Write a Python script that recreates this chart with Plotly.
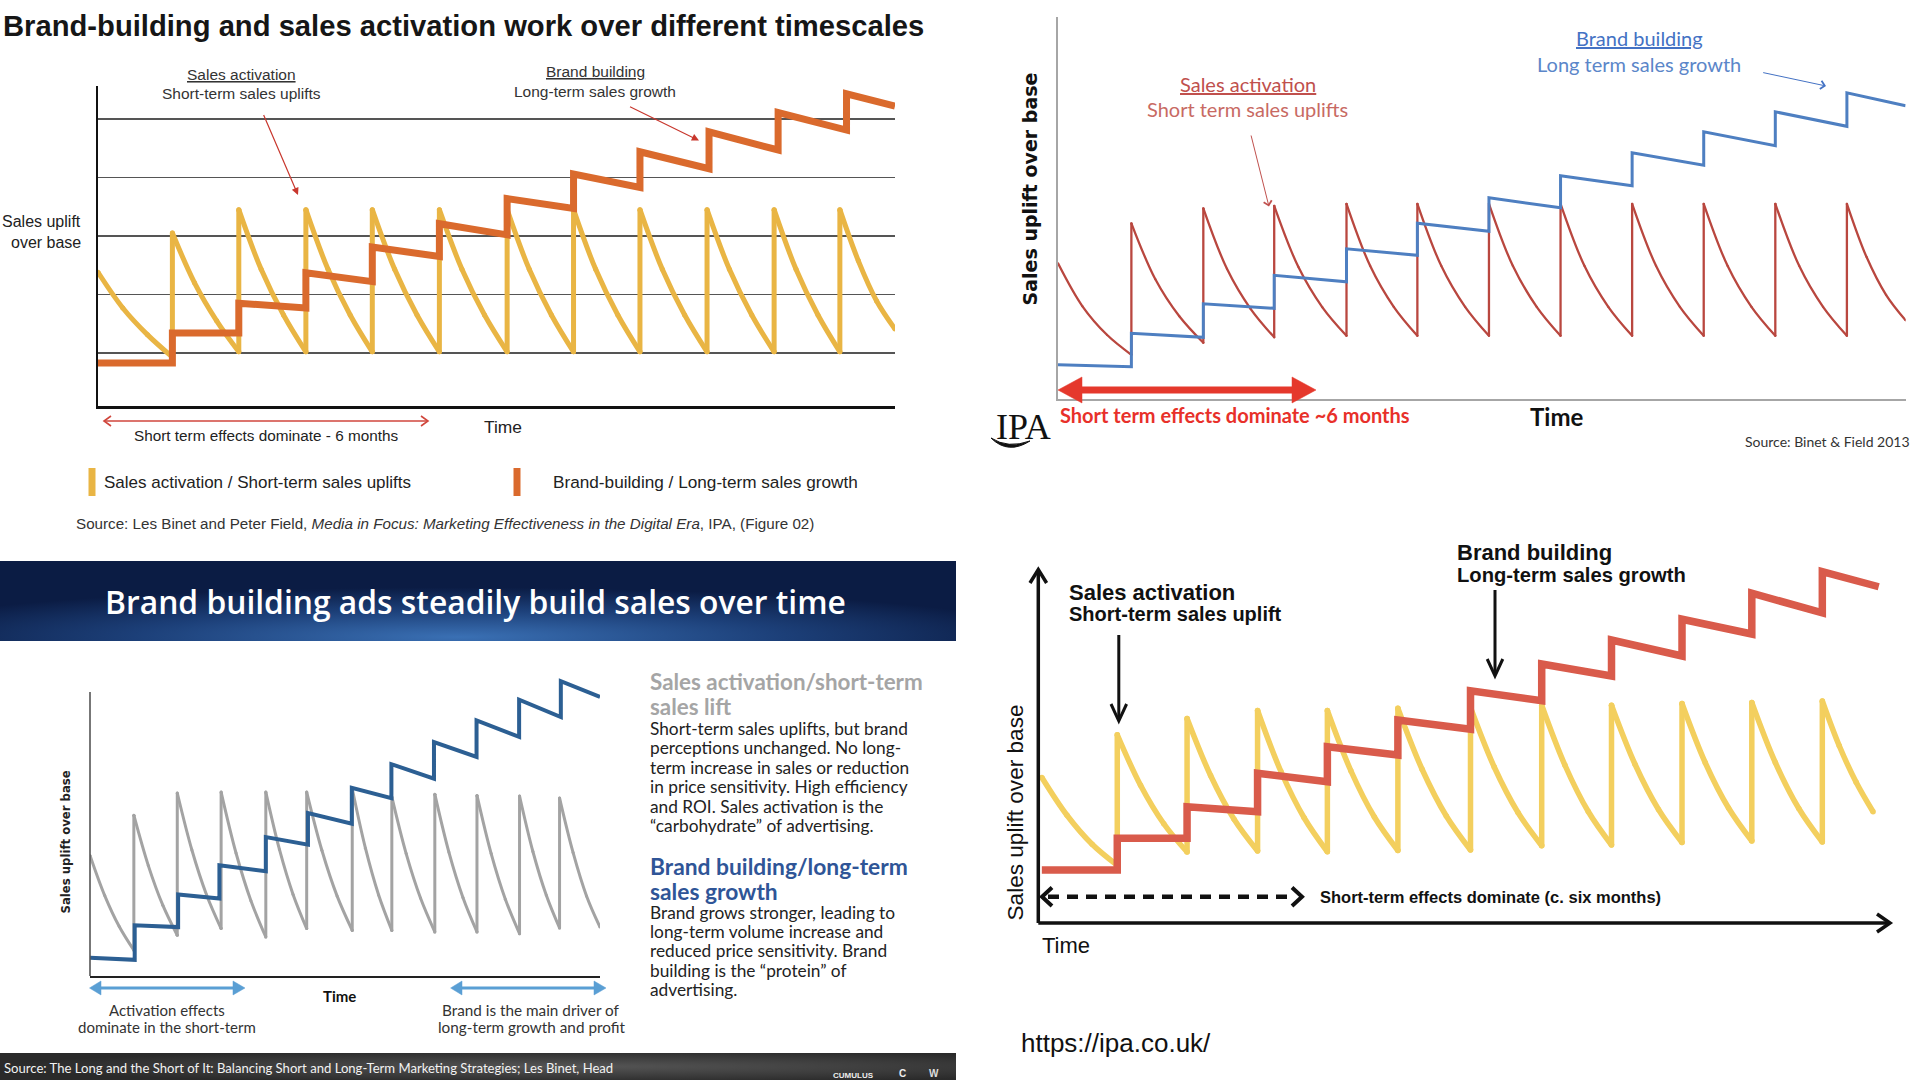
import base64
import plotly.graph_objects as go

W, H = 1920, 1080

# ------------------------------------------------------------------ data
# Panel 1 (top-left) - sales activation teeth and brand-building steps
p1_act_t = [0, 1.12, 2.12, 3.13, 4.13, 5.14, 6.16, 7.16, 8.16, 9.17, 10.18, 11.17, 12.0]
p1_act_top = [2.38, 3.05, 3.45, 3.45, 3.45, 3.45, 3.45, 3.45, 3.45, 3.45, 3.45, 3.45]
p1_act_q1 = [1.77, 2.20, 2.43, 2.43, 2.43, 2.43, 2.43, 2.43, 2.43, 2.43, 2.43, 2.58]
p1_act_q2 = [1.31, 1.55, 1.65, 1.65, 1.65, 1.65, 1.65, 1.65, 1.65, 1.65, 1.65, 1.89]
p1_act_bot = [0.93, 1.02, 1.02, 1.02, 1.02, 1.02, 1.02, 1.02, 1.02, 1.02, 1.02, 1.41]
p1_brand_t = [0, 1.12, 2.12, 3.13, 4.13, 5.14, 6.16, 7.16, 8.16, 9.2, 10.24, 11.27, 12.0]
p1_brand_top = [0.83, 1.34, 1.85, 2.37, 2.81, 3.21, 3.64, 4.06, 4.44, 4.78, 5.11, 5.43]
p1_brand_bot = [0.83, 1.34, 1.77, 2.22, 2.65, 3.02, 3.47, 3.83, 4.15, 4.47, 4.81, 5.22]
p1_grid = [1, 2, 3, 4, 5]

# Panel 2 (top-right) - IPA / Binet & Field 2013
p2_act_t = [0, 1.025, 2.03, 3.02, 4.03, 5.02, 6.02, 7.02, 8.02, 9.02, 10.02, 11.02, 11.84]
p2_act_top = [2.71, 3.51, 3.81, 3.86, 3.90, 3.90, 3.90, 3.90, 3.90, 3.90, 3.90, 3.90]
p2_act_q1 = [1.85, 2.39, 2.60, 2.64, 2.66, 2.66, 2.66, 2.66, 2.66, 2.66, 2.66, 2.84]
p2_act_q2 = [1.28, 1.65, 1.80, 1.83, 1.84, 1.84, 1.84, 1.84, 1.84, 1.84, 1.84, 2.08]
p2_act_bot = [0.88, 1.12, 1.23, 1.26, 1.26, 1.26, 1.26, 1.26, 1.26, 1.26, 1.26, 1.57]
p2_brand_t = [0, 1.025, 2.03, 3.02, 4.03, 5.02, 6.02, 7.02, 8.02, 9.02, 10.02, 11.02, 11.84]
p2_brand_top = [0.68, 1.31, 1.90, 2.47, 3.00, 3.51, 4.02, 4.46, 4.92, 5.34, 5.74, 6.12]
p2_brand_bot = [0.64, 1.23, 1.81, 2.34, 2.87, 3.35, 3.82, 4.26, 4.67, 5.06, 5.45, 5.86]

# Panel 3 (bottom-left) - "Brand building ads steadily build sales over time"
p3_act_t = [0, 1.03, 2.05, 3.08, 4.13, 5.09, 6.16, 7.09, 8.10, 9.09, 10.09, 11.03, 11.98]
p3_act_top = [4.02, 5.36, 6.10, 6.13, 6.13, 6.13, 6.24, 5.97, 6.06, 6.02, 6.00, 5.93]
p3_act_q1 = [2.69, 3.68, 4.20, 4.10, 4.22, 4.19, 4.26, 4.08, 4.13, 4.08, 4.15, 4.12]
p3_act_q2 = [1.65, 2.36, 2.71, 2.51, 2.72, 2.67, 2.70, 2.60, 2.62, 2.56, 2.70, 2.67]
p3_act_bot = [0.86, 1.36, 1.58, 1.30, 1.58, 1.52, 1.52, 1.47, 1.47, 1.41, 1.60, 1.63]
p3_brand_t = [0, 1.05, 2.07, 3.04, 4.13, 5.12, 6.15, 7.08, 8.08, 9.08, 10.08, 11.06, 11.98]
p3_brand_top = [0.61, 1.69, 2.72, 3.69, 4.63, 5.43, 6.27, 7.06, 7.80, 8.52, 9.21, 9.83]
p3_brand_bot = [0.54, 1.63, 2.58, 3.49, 4.38, 5.08, 5.93, 6.58, 7.30, 7.97, 8.63, 9.30]

# Panel 4 (bottom-right) - ipa.co.uk
p4_act_t = [0.05, 1.12, 2.11, 3.11, 4.10, 5.10, 6.13, 7.14, 8.13, 9.13, 10.12, 11.12, 11.84]
p4_act_top = [5.82, 7.53, 8.18, 8.50, 8.50, 8.59, 8.62, 8.71, 8.71, 8.78, 8.82, 8.88]
p4_act_q1 = [4.31, 5.51, 5.90, 6.07, 6.09, 6.15, 6.24, 6.31, 6.35, 6.41, 6.42, 7.09]
p4_act_q2 = [3.15, 3.97, 4.15, 4.21, 4.24, 4.28, 4.42, 4.46, 4.54, 4.60, 4.58, 5.63]
p4_act_bot = [2.31, 2.84, 2.88, 2.85, 2.90, 2.92, 3.09, 3.12, 3.22, 3.28, 3.24, 4.45]
p4_brand_t = [0.05, 1.12, 2.11, 3.11, 4.10, 5.10, 6.13, 7.14, 8.13, 9.13, 10.12, 11.12, 11.92]
p4_brand_top = [2.12, 3.39, 4.65, 5.99, 7.05, 8.12, 9.29, 10.36, 11.32, 12.15, 13.19, 14.05]
p4_brand_bot = [2.12, 3.39, 4.45, 5.65, 6.72, 7.75, 8.89, 9.88, 10.68, 11.56, 12.41, 13.45]

body_activation = [
    "Short-term sales uplifts, but brand",
    "perceptions unchanged. No long-",
    "term increase in sales or reduction",
    "in price sensitivity. High efficiency",
    "and ROI. Sales activation is the",
    "\u201ccarbohydrate\u201d of advertising.",
]
body_brand = [
    "Brand grows stronger, leading to",
    "long-term volume increase and",
    "reduced price sensitivity. Brand",
    "building is the \u201cprotein\u201d of",
    "advertising.",
]

# ------------------------------------------------------------------ helpers
F_NARROW = "Liberation Sans Narrow, Arial Narrow, Liberation Sans, sans-serif"
F_SANS = "Liberation Sans, Arial, sans-serif"
F_LATO = "Lato, sans-serif"
F_OPEN = "Open Sans, Lato, sans-serif"
F_DEJAVU = "DejaVu Sans, sans-serif"
F_SERIF = "Liberation Serif, serif"


def X(px):
    return px / W


def Y(py):
    return 1 - py / H


def act_xy(t, top, q1, q2, bot):
    xs, ys = [], []
    for i in range(len(top)):
        t0, t1 = t[i], t[i + 1]
        d = t1 - t0
        xs += [t0, t0 + d / 3, t0 + 2 * d / 3, t1, None]
        ys += [top[i], q1[i], q2[i], bot[i], None]
        if i + 1 < len(top):
            xs += [t1, t1, None]
            ys += [bot[i], top[i + 1], None]
    return xs, ys


def brand_xy(t, top, bot):
    xs, ys = [], []
    for i in range(len(top)):
        xs += [t[i], t[i + 1]]
        ys += [top[i], bot[i]]
    return xs, ys


ann = []
shapes = []


def txt(s, px, py, size, color="#222", family=F_SANS, xanchor="left",
        yanchor="middle", angle=0, weight="normal"):
    ann.append(dict(text=s, x=X(px), y=Y(py), xref="paper", yref="paper",
                    showarrow=False, xanchor=xanchor, yanchor=yanchor,
                    textangle=angle, borderpad=0,
                    font=dict(size=size, color=color, family=family, weight=weight)))


def arrow(x0, y0, x1, y1, color, width, head=2, size=1.0):
    ann.append(dict(text="", x=X(x1), y=Y(y1), xref="paper", yref="paper",
                    ax=x0 - x1, ay=y0 - y1, axref="pixel", ayref="pixel",
                    showarrow=True, arrowhead=head, arrowsize=size,
                    arrowwidth=width, arrowcolor=color, standoff=0))


def seg(x0, y0, x1, y1, color, width, dash=None):
    line = dict(color=color, width=width)
    if dash:
        line["dash"] = dash
    shapes.append(dict(type="line", xref="paper", yref="paper",
                       x0=X(x0), y0=Y(y0), x1=X(x1), y1=Y(y1), line=line))


def poly(pts, color, width, fill=None, closed=False):
    d = "M " + " L ".join(f"{X(a):.6f},{Y(b):.6f}" for a, b in pts)
    if closed:
        d += " Z"
    shapes.append(dict(type="path", xref="paper", yref="paper", path=d,
                       line=dict(color=color, width=width),
                       fillcolor=fill if fill else "rgba(0,0,0,0)"))


def svg_uri(svg):
    return "data:image/svg+xml;base64," + base64.b64encode(svg.encode()).decode()


# ------------------------------------------------------------------ figure
fig = go.Figure()


def add_panel(n, act, brand, act_color, act_w, brand_color, brand_w):
    ax = "x" if n == 1 else f"x{n}"
    ay = "y" if n == 1 else f"y{n}"
    ax_, ay_ = act_xy(*act)
    bx_, by_ = brand_xy(*brand)
    fig.add_trace(go.Scatter(x=ax_, y=ay_, xaxis=ax, yaxis=ay, mode="lines+markers",
                             connectgaps=False, hoverinfo="skip",
                             line=dict(color=act_color, width=act_w, shape="spline", smoothing=1),
                             marker=dict(color=act_color, size=act_w, line=dict(width=0))))
    fig.add_trace(go.Scatter(x=bx_, y=by_, xaxis=ax, yaxis=ay, mode="lines", hoverinfo="skip",
                             line=dict(color=brand_color, width=brand_w)))


add_panel(1, (p1_act_t, p1_act_top, p1_act_q1, p1_act_q2, p1_act_bot),
          (p1_brand_t, p1_brand_top, p1_brand_bot), "#E9B544", 5, "#DA6A2D", 7)
add_panel(2, (p2_act_t, p2_act_top, p2_act_q1, p2_act_q2, p2_act_bot),
          (p2_brand_t, p2_brand_top, p2_brand_bot), "#B9473F", 2.3, "#4E7FC1", 3)
add_panel(3, (p3_act_t, p3_act_top, p3_act_q1, p3_act_q2, p3_act_bot),
          (p3_brand_t, p3_brand_top, p3_brand_bot), "#A3A3A3", 3, "#2C5F93", 4)
add_panel(4, (p4_act_t, p4_act_top, p4_act_q1, p4_act_q2, p4_act_bot),
          (p4_brand_t, p4_brand_top, p4_brand_bot), "#F3CF5E", 5.5, "#D95B4B", 7.5)

hidden = dict(visible=False, fixedrange=True)

layout = dict(
    width=W, height=H, margin=dict(l=0, r=0, t=0, b=0),
    paper_bgcolor="white", plot_bgcolor="rgba(0,0,0,0)", showlegend=False,
    # panel 1
    xaxis=dict(domain=[X(98), X(895)], range=[0, 12], showgrid=False, zeroline=False,
               showticklabels=False, ticks="", showline=True, linecolor="#111",
               linewidth=3, fixedrange=True),
    yaxis=dict(domain=[Y(406), Y(86)], range=[0.094, 5.564], tickvals=p1_grid,
               showgrid=True, gridcolor="#555555", gridwidth=1.3, zeroline=False,
               showticklabels=False, ticks="", showline=True, linecolor="#111",
               linewidth=2, fixedrange=True),
    # panel 2
    xaxis2=dict(domain=[X(1058), X(1905.6)], range=[0, 11.84], anchor="y2",
                showgrid=False, zeroline=False, showticklabels=False, ticks="",
                showline=True, linecolor="#A6A6A6", linewidth=2, fixedrange=True),
    yaxis2=dict(domain=[Y(398.8), Y(17)], range=[0, 7.636], anchor="x2",
                showgrid=False, zeroline=False, showticklabels=False, ticks="",
                showline=True, linecolor="#A6A6A6", linewidth=2, fixedrange=True),
    # panel 3
    xaxis3=dict(domain=[X(90), X(600)], range=[0, 11.98], anchor="y3",
                showgrid=False, zeroline=False, showticklabels=False, ticks="",
                showline=True, linecolor="#222", linewidth=1.6, fixedrange=True),
    yaxis3=dict(domain=[Y(976), Y(676)], range=[0, 10.0], anchor="x3", **hidden),
    # panel 4
    xaxis4=dict(domain=[X(1038.3), X(1890)], range=[0, 12.08], anchor="y4", **hidden),
    yaxis4=dict(domain=[Y(923), Y(560)], range=[0, 14.52], anchor="x4", **hidden),
)

# ------------------------------------------------------------------ panel 1 text
txt("Brand-building and sales activation work over different timescales", 2, 26, 29.2,
    color="#161616", family=F_NARROW, weight="bold")
txt("<u>Sales activation</u>", 241.7, 74, 15.5, color="#333", family=F_NARROW, xanchor="center")
txt("Short-term sales uplifts", 241.7, 93.5, 15.5, color="#333", family=F_NARROW, xanchor="center")
txt("<u>Brand building</u>", 595, 71, 15.5, color="#333", family=F_NARROW, xanchor="center")
txt("Long-term sales growth", 595, 91, 15.5, color="#333", family=F_NARROW, xanchor="center")
arrow(263, 113.6, 298, 195, "#C8372D", 1.2, head=2, size=1.2)
arrow(628.5, 106, 699, 140.5, "#C8372D", 1.2, head=2, size=1.2)
txt("Sales uplift", 82, 221.5, 16, color="#222", family=F_NARROW, xanchor="right")
txt("over base", 82, 242.5, 16, color="#222", family=F_NARROW, xanchor="right")
txt("Time", 503, 427, 17.4, color="#222", family=F_NARROW, xanchor="center")
txt("Short term effects dominate - 6 months", 266, 435.5, 15.3, color="#222",
    family=F_NARROW, xanchor="center")
seg(104, 421, 428, 421, "#D0463C", 1.6)
poly([(111, 416), (104, 421), (111, 426)], "#D0463C", 1.6)
poly([(421, 416), (428, 421), (421, 426)], "#D0463C", 1.6)
seg(92, 468, 92, 496, "#E9B544", 7)
seg(517, 468, 517, 496, "#DA6A2D", 7)
txt("Sales activation / Short-term sales uplifts", 103, 482, 17, color="#222", family=F_NARROW)
txt("Brand-building / Long-term sales growth", 552, 482, 17.2, color="#222", family=F_NARROW)
txt("Source: Les Binet and Peter Field, <i>Media in Focus: Marketing Effectiveness in the "
    "Digital Era</i>, IPA, (Figure 02)", 75, 523, 15.2, color="#333", family=F_NARROW)

# ------------------------------------------------------------------ panel 2 text
txt("<u>Sales activation</u>", 1247.6, 84, 20, color="#C0504D", family=F_LATO, xanchor="center")
txt("Short term sales uplifts", 1247.6, 109.5, 20, color="#C86A63", family=F_LATO, xanchor="center")
txt("<u>Brand building</u>", 1639, 38, 20, color="#4472C4", family=F_LATO, xanchor="center")
txt("Long term sales growth", 1639, 63.5, 20, color="#5B86C9", family=F_LATO, xanchor="center")
arrow(1250.7, 134, 1269, 206.6, "#C0504D", 1, head=4, size=1.6)
arrow(1761.7, 72.3, 1826, 86, "#4472C4", 1, head=4, size=1.6)
txt("Sales uplift over base", 1030.4, 189, 19, color="#111", family=F_DEJAVU,
    xanchor="center", angle=-90, weight="bold")
seg(1078, 390, 1296, 390, "#E5382C", 7)
poly([(1058, 390), (1082, 377), (1082, 403)], "#E5382C", 0.5, fill="#E5382C", closed=True)
poly([(1316, 390), (1292, 377), (1292, 403)], "#E5382C", 0.5, fill="#E5382C", closed=True)
txt("Short term effects dominate ~6 months", 1059, 415, 20, color="#E8302A",
    family=F_LATO, weight="bold")
txt("Time", 1556.7, 416, 24, color="#111", family=F_LATO, xanchor="center", weight="bold")
txt("Source: Binet & Field 2013", 1744, 442, 14, color="#333", family=F_LATO)
txt("IPA", 995, 427, 36, color="#111", family=F_SERIF)
shapes.append(dict(type="path", xref="paper", yref="paper",
                   path=(f"M {X(991):.6f},{Y(438):.6f} Q {X(1008):.6f},{Y(455):.6f} "
                         f"{X(1030):.6f},{Y(441):.6f} Q {X(1008):.6f},{Y(449):.6f} "
                         f"{X(991):.6f},{Y(438):.6f} Z"),
                   line=dict(color="#111", width=1), fillcolor="#111"))

# ------------------------------------------------------------------ panel 3 text
banner_svg = ("<svg xmlns='http://www.w3.org/2000/svg' width='956' height='80' "
              "viewBox='0 0 956 80' preserveAspectRatio='none'><defs>"
              "<radialGradient id='g' cx='0.48' cy='0.95' r='0.62'>"
              "<stop offset='0' stop-color='#3A70B4'/><stop offset='0.55' stop-color='#1C3F78'/>"
              "<stop offset='1' stop-color='#0B1C44'/></radialGradient></defs>"
              "<rect width='956' height='80' fill='url(#g)'/></svg>")
footer_svg = ("<svg xmlns='http://www.w3.org/2000/svg' width='956' height='27' "
              "viewBox='0 0 956 27' preserveAspectRatio='none'><defs>"
              "<radialGradient id='f' cx='0.6' cy='0.5' r='0.6'>"
              "<stop offset='0' stop-color='#555555'/><stop offset='1' stop-color='#2A2A2A'/>"
              "</radialGradient></defs><rect width='956' height='27' fill='url(#f)'/></svg>")
images = [
    dict(source=svg_uri(banner_svg), xref="paper", yref="paper", x=0, y=Y(561),
         sizex=956 / W, sizey=80 / H, xanchor="left", yanchor="top",
         sizing="stretch", layer="below"),
    dict(source=svg_uri(footer_svg), xref="paper", yref="paper", x=0, y=Y(1053),
         sizex=956 / W, sizey=27 / H, xanchor="left", yanchor="top",
         sizing="stretch", layer="below"),
]
txt("Brand building ads steadily build sales over time", 475.5, 601.5, 31.8, color="white",
    family=F_OPEN, xanchor="center", weight=600)
seg(90, 976, 90, 692, "#555", 1.6)
txt("Sales uplift over base", 65, 842.5, 11.7, color="#222", family=F_DEJAVU,
    xanchor="center", angle=-90, weight="bold")
seg(96, 988, 239, 988, "#5A9FD4", 3)
poly([(89.5, 988), (101, 981), (101, 995)], "#5A9FD4", 0.5, fill="#5A9FD4", closed=True)
poly([(245, 988), (233, 981), (233, 995)], "#5A9FD4", 0.5, fill="#5A9FD4", closed=True)
seg(457, 988, 600, 988, "#5A9FD4", 3)
poly([(450.6, 988), (462, 981), (462, 995)], "#5A9FD4", 0.5, fill="#5A9FD4", closed=True)
poly([(606, 988), (594, 981), (594, 995)], "#5A9FD4", 0.5, fill="#5A9FD4", closed=True)
txt("Time", 339.5, 995.5, 15, color="#111", family=F_LATO, xanchor="center", weight="bold")
txt("Activation effects", 166.5, 1010, 15, color="#333", family=F_LATO, xanchor="center")
txt("dominate in the short-term", 166.5, 1027.3, 15, color="#333", family=F_LATO, xanchor="center")
txt("Brand is the main driver of", 531.4, 1010, 15.3, color="#333", family=F_LATO, xanchor="center")
txt("long-term growth and profit", 531.4, 1027.3, 15.3, color="#333", family=F_LATO, xanchor="center")
txt("Sales activation/short-term", 648.7, 681, 22.4, color="#A5A5A5", family=F_LATO, weight="bold")
txt("sales lift", 648.7, 706.5, 22.4, color="#A5A5A5", family=F_LATO, weight="bold")
for i, line in enumerate(body_activation):
    txt(line, 648.7, 728.6 + i * 19.35, 17.3, color="#222", family=F_LATO)
txt("Brand building/long-term", 648.7, 865.7, 22.8, color="#2F5597", family=F_LATO, weight="bold")
txt("sales growth", 648.7, 891.4, 22.8, color="#2F5597", family=F_LATO, weight="bold")
for i, line in enumerate(body_brand):
    txt(line, 648.7, 912.4 + i * 19.25, 17.3, color="#222", family=F_LATO)
txt("Source: The Long and the Short of It: Balancing Short and Long-Term Marketing "
    "Strategies; Les Binet, Head", 3, 1068, 13.1, color="#F2F2F2", family=F_LATO)
txt("CUMULUS", 832, 1075, 8, color="#EEEEEE", family=F_SANS, weight="bold")
txt("C", 898, 1073, 10, color="#EEEEEE", family=F_SANS, weight="bold")
txt("W", 928, 1073, 10, color="#DDDDDD", family=F_SANS, weight="bold")

# ------------------------------------------------------------------ panel 4 text
seg(1038.3, 923, 1038.3, 571, "#111", 3.5)
poly([(1030, 583), (1038.3, 569.5), (1046.6, 583)], "#111", 3.5)
seg(1038.3, 923, 1888, 923, "#111", 3.5)
poly([(1877, 914), (1890, 923), (1877, 932)], "#111", 3.5)
seg(1048, 896.7, 1295, 896.7, "#111", 4.5, dash="11px,8px")
poly([(1052, 887.5), (1042, 896.7), (1052, 906)], "#111", 4)
poly([(1292, 887.5), (1302, 896.7), (1292, 906)], "#111", 4)
txt("Short-term effects dominate (c. six months)", 1318.6, 897.3, 16.5, color="#111",
    family=F_SANS, weight="bold")
seg(1118.8, 635, 1118.8, 719, "#111", 3)
poly([(1111, 704), (1118.8, 721), (1126.6, 704)], "#111", 3)
seg(1495, 590, 1495, 674, "#111", 3)
poly([(1487.2, 659), (1495, 676), (1502.8, 659)], "#111", 3)
txt("Sales activation", 1067.7, 592, 22, color="#111", family=F_SANS, weight="bold")
txt("Short-term sales uplift", 1067.7, 613.5, 20, color="#111", family=F_SANS, weight="bold")
txt("Brand building", 1456, 552.5, 22, color="#111", family=F_SANS, weight="bold")
txt("Long-term sales growth", 1456, 574.5, 20.2, color="#111", family=F_SANS, weight="bold")
txt("Time", 1041, 945.5, 22, color="#111", family=F_SANS)
txt("Sales uplift over base", 1015, 812.5, 22.6, color="#111", family=F_SANS,
    xanchor="center", angle=-90)
txt("https://ipa.co.uk/", 1020, 1043, 26, color="#111", family=F_SANS)

layout["annotations"] = ann
layout["shapes"] = shapes
layout["images"] = images
fig.update_layout(**layout)

fig.write_html("out.html", config={"displayModeBar": False, "staticPlot": True},
               post_script="document.body.style.margin='0px';")
